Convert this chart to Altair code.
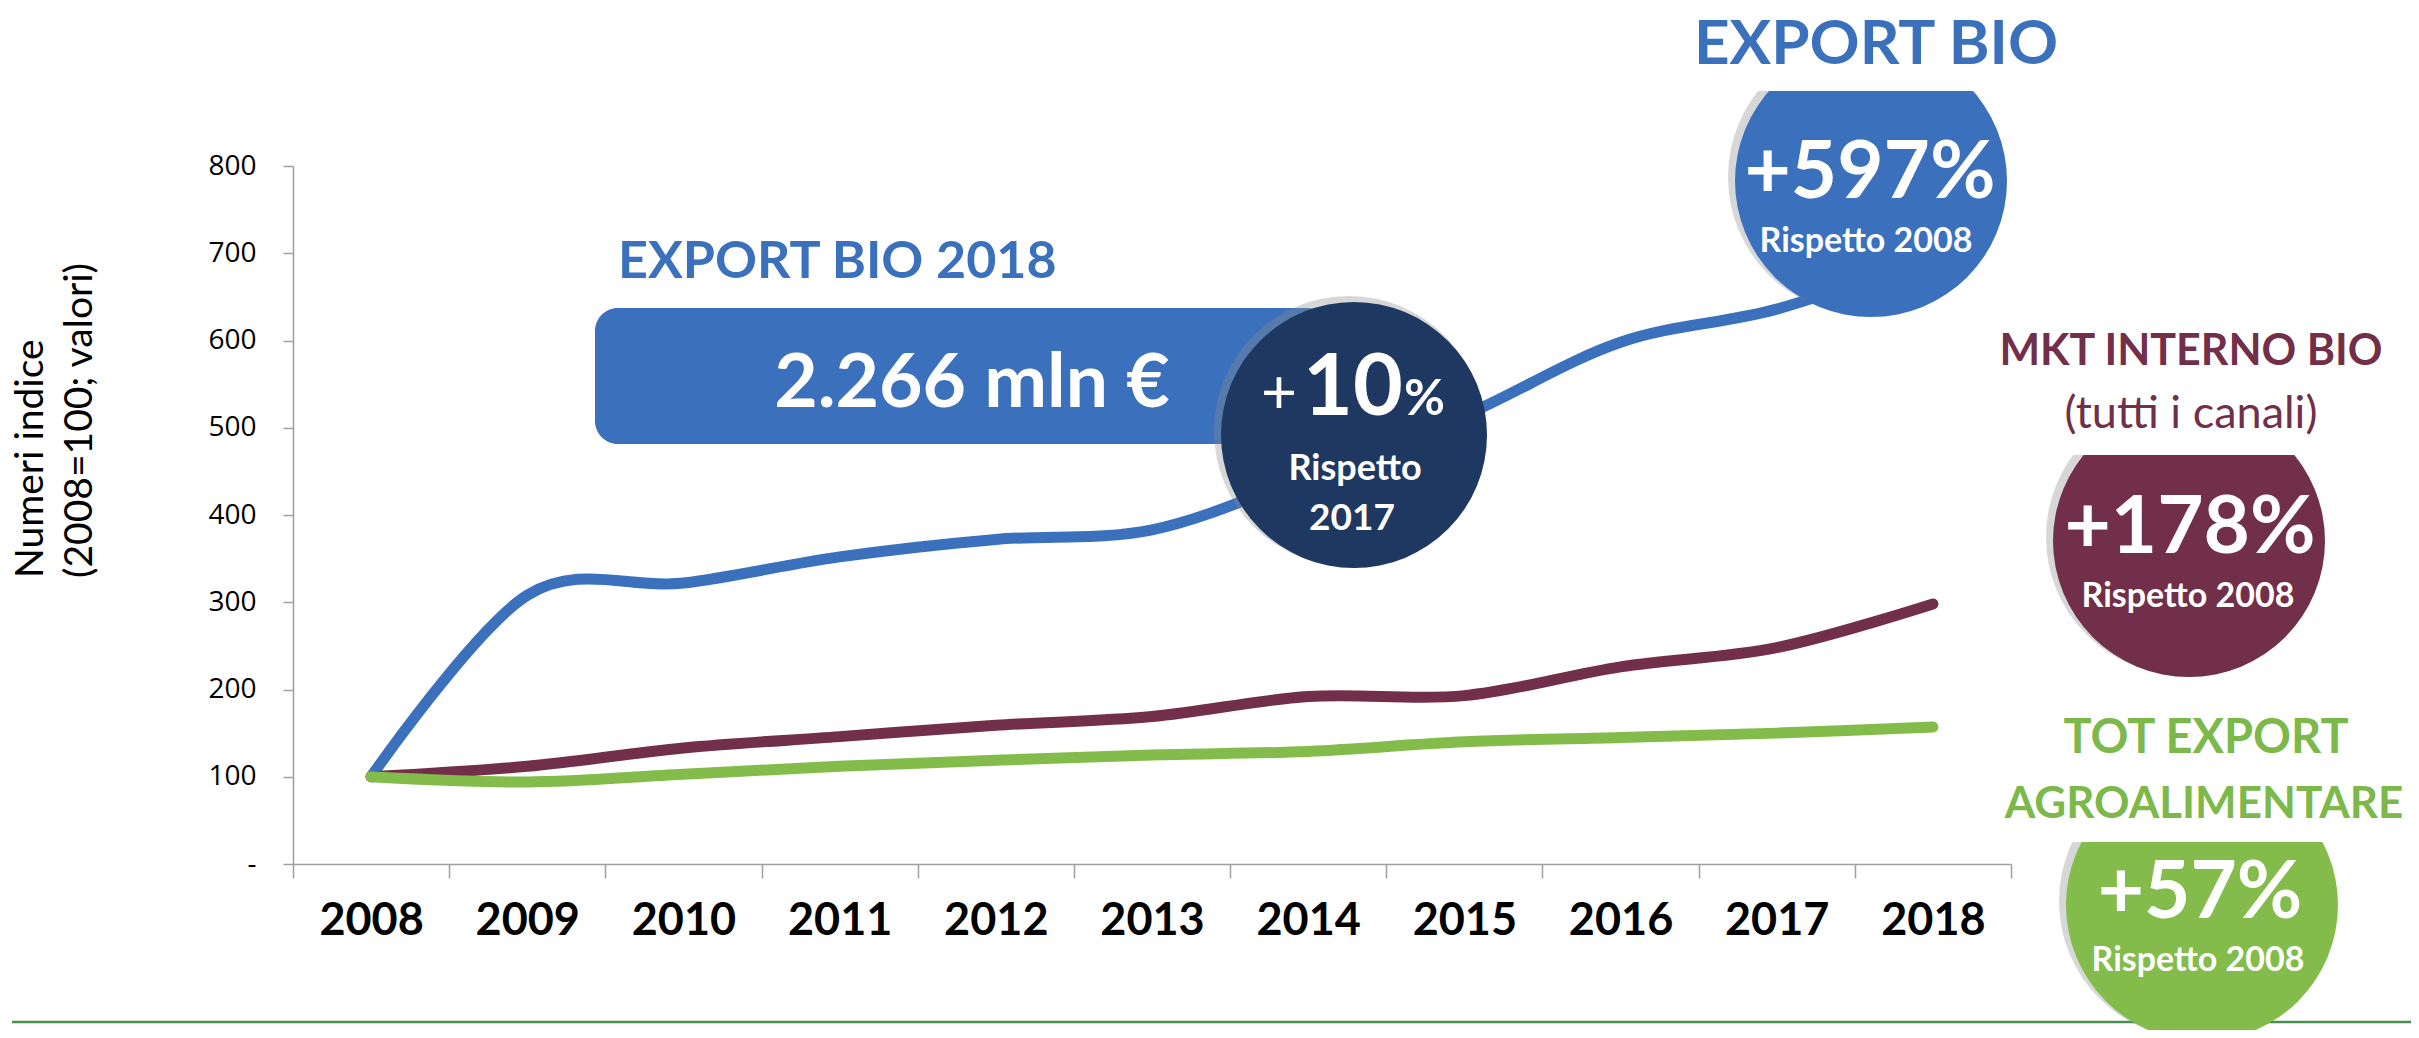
import altair as alt
import pandas as pd

# ---- data ----
years = ["2008", "2009", "2010", "2011", "2012", "2013", "2014", "2015", "2016", "2017", "2018"]
export_bio = [100, 308, 322, 352, 372, 383, 445, 514, 598, 636, 697]
mkt_interno = [100, 112, 133, 146, 159, 169, 192, 193, 226, 248, 298]
tot_export = [100, 94, 103, 112, 119, 125, 129, 140, 145, 150, 157]
series_names = ["EXPORT BIO", "MKT INTERNO BIO", "TOT EXPORT AGROALIMENTARE"]
series_colors = ["#3A70BC", "#722F49", "#83BC4B"]
y_ticks = [0, 100, 200, 300, 400, 500, 600, 700, 800]

rows = []
for name, vals in zip(series_names, [export_bio, mkt_interno, tot_export]):
    for yr, v in zip(years, vals):
        rows.append({"anno": yr, "valore": v, "serie": name})
df = pd.DataFrame(rows)

# ---- layout ----
OX, OY = 293, 166          # page position of the plot origin
W, H = 1718, 698
GREY = "#A0A0A0"
BLUE, NAVY, MAROON, GREEN = "#3A70BC", "#1F3861", "#722F49", "#83BC4B"
GREEN_TXT = "#7DB84A"

dummy = pd.DataFrame({"a": [0]})


def X(v):
    return alt.value(v - OX)


def Y(v):
    return alt.value(v - OY)


def txt(s, x, y, size, color, weight="bold", align="center", font="Lato", angle=0):
    return alt.Chart(dummy).mark_text(
        text=s, fontSize=size, font=font, fontWeight=weight, color=color,
        align=align, baseline="alphabetic", angle=angle
    ).encode(x=X(x), y=Y(y))


def circle(cx, cy, r, color, opacity=1.0):
    return alt.Chart(dummy).mark_point(
        shape="circle", filled=True, size=4 * r * r, color=color,
        opacity=opacity, strokeWidth=0
    ).encode(x=X(cx), y=Y(cy))


def rect(x1, x2, y1, y2, color, radius=0):
    return alt.Chart(dummy).mark_rect(color=color, cornerRadius=radius).encode(
        x=X(x1), x2=X(x2), y=Y(y1), y2=Y(y2)
    )


lines = alt.Chart(df).mark_line(
    interpolate="cardinal", strokeWidth=11, strokeCap="round", strokeJoin="round"
).encode(
    x=alt.X(
        "anno:O", bandPosition=0.5,
        scale=alt.Scale(type="band", paddingInner=0, paddingOuter=0),
        axis=alt.Axis(
            title=None, labelAngle=0, labelFont="Lato", labelFontWeight="bold",
            labelFontSize=45, labelColor="#000000", labelPadding=20,
            tickSize=14, tickColor=GREY, tickWidth=1.5, domainColor=GREY,
            domainWidth=1.5, tickBand="extent", grid=False
        ),
    ),
    y=alt.Y(
        "valore:Q", scale=alt.Scale(domain=[0, 800], nice=False),
        axis=alt.Axis(
            title=None, values=y_ticks, labelFont="Open Sans", labelFontSize=28,
            labelColor="#000000", labelPadding=27, tickSize=10, tickColor=GREY,
            tickWidth=1.5, domainColor=GREY, domainWidth=1.5, grid=False,
            labelExpr="datum.value == 0 ? '-\u00a0\u00a0' : datum.label"
        ),
    ),
    color=alt.Color("serie:N", scale=alt.Scale(domain=series_names, range=series_colors), legend=None),
)

layers = [
    lines,
    # y axis title (two lines)
    txt("Numeri indice", 43, 578, 39, "#000000", weight="normal", align="left", angle=270),
    txt("(2008=100; valori)", 92, 578, 39, "#000000", weight="normal", align="left", angle=270),
    # bottom green rule
    alt.Chart(dummy).mark_rule(color="#4A8F50", strokeWidth=2.5).encode(
        x=X(12), x2=X(2411), y=Y(1022)
    ),
    # EXPORT BIO 2018 box
    txt("EXPORT BIO 2018", 618, 278, 52, BLUE, align="left"),
    rect(595, 1330, 308, 444, BLUE, radius=23),
    txt("2.266 mln €", 972, 407, 75, "#FFFFFF"),
    # +10% circle
    circle(1349, 431, 135, "#8C8C8C", 0.35),
    circle(1354, 435, 133, NAVY),
    txt("+", 1297, 413, 62, "#FFFFFF", weight="normal", align="right"),
    txt("10", 1303, 415, 86, "#FFFFFF", align="left"),
    txt("%", 1404, 415, 50, "#FFFFFF", align="left"),
    txt("Rispetto", 1355, 480, 36, "#FFFFFF"),
    txt("2017", 1352, 530, 37, "#FFFFFF"),
    # EXPORT BIO circle
    circle(1866, 177, 138, "#8C8C8C", 0.35),
    circle(1871, 181, 136, BLUE),
    rect(1720, 2025, 35, 91, "#FFFFFF"),
    txt("EXPORT BIO", 1876, 64, 62, BLUE),
    txt("+597%", 1870, 198, 80, "#FFFFFF"),
    txt("Rispetto 2008", 1866, 252, 34, "#FFFFFF"),
    # MKT INTERNO circle
    circle(2184, 537, 138, "#8C8C8C", 0.35),
    circle(2189, 541, 136, MAROON),
    rect(2040, 2340, 395, 455, "#FFFFFF"),
    txt("MKT INTERNO BIO", 2191, 365, 43, MAROON),
    txt("(tutti i canali)", 2191, 428, 45, MAROON, weight="normal"),
    txt("+178%", 2190, 553, 80, "#FFFFFF"),
    txt("Rispetto 2008", 2188, 607, 34, "#FFFFFF"),
    # TOT EXPORT circle
    circle(2197, 901, 138, "#8C8C8C", 0.35),
    circle(2202, 905, 136, GREEN),
    rect(2050, 2350, 760, 842, "#FFFFFF"),
    txt("TOT EXPORT", 2206, 753, 47, GREEN_TXT),
    txt("AGROALIMENTARE", 2204, 818, 44, GREEN_TXT),
    txt("+57%", 2200, 918, 80, "#FFFFFF"),
    txt("Rispetto 2008", 2198, 971, 34, "#FFFFFF"),
]

chart = alt.layer(*layers).properties(
    width=W, height=H,
    padding={"left": OX - 8, "top": OY - 8, "right": 2403 - (OX - 8) - W, "bottom": 1022 - (OY - 8) - H},
    autosize=alt.AutoSizeParams(type="none"),
).configure_view(stroke=None)

chart.save("out.html", embed_options={"renderer": "svg", "actions": False})
